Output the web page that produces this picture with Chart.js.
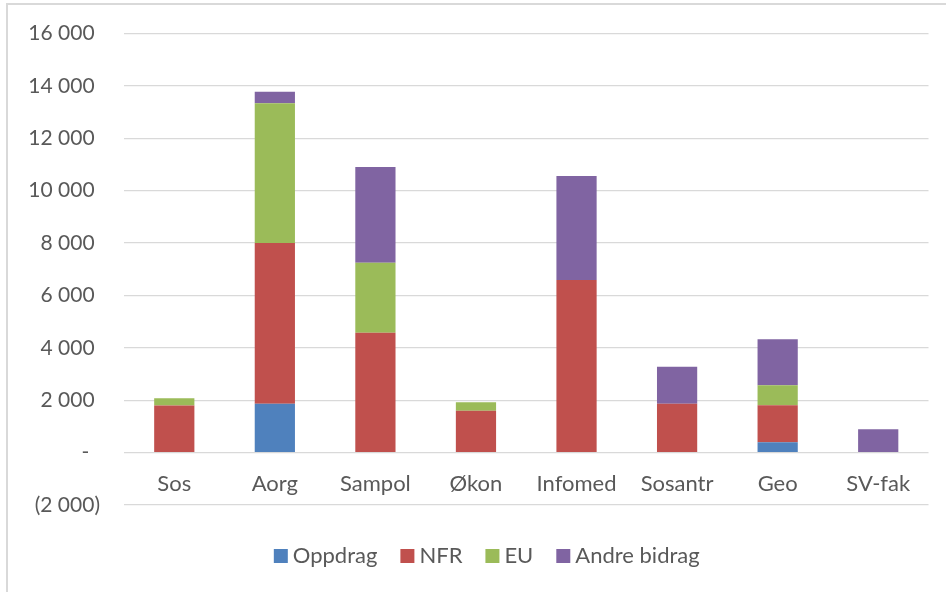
<!DOCTYPE html>
<html>
<head>
<meta charset="utf-8">
<script src="https://cdn.jsdelivr.net/npm/chart.js@4.4.1/dist/chart.umd.min.js"></script>
<style>
  html, body { margin: 0; padding: 0; background: #fff; overflow: hidden; width: 946px; height: 592px; }
  #frame { position: absolute; left: 6px; top: 3px; width: 1200px; height: 1200px; border-left: 2px solid #d9d9d9; border-top: 2px solid #d9d9d9; }
  #wrap { position: absolute; left: 0; top: 0; width: 946px; height: 592px; }
</style>
</head>
<body>
<div id="frame"></div>
<div id="wrap"><canvas id="c" width="946" height="592"></canvas></div>
<script>
const categories = ['Sos', 'Aorg', 'Sampol', 'Økon', 'Infomed', 'Sosantr', 'Geo', 'SV-fak'];
const oppdrag = [0, 1870, 0, 0, 0, 0, 400, 0];
const nfr     = [1800, 6130, 4580, 1600, 6590, 1870, 1410, 0];
const eu      = [280, 5340, 2670, 320, 0, 0, 760, 0];
const andre   = [0, 440, 3650, 0, 3970, 1410, 1760, 890];
const seriesNames = ['Oppdrag', 'NFR', 'EU', 'Andre bidrag'];
const yMin = -2000, yMax = 16000, yStep = 2000;

const FONT = 'Lato, "Open Sans", sans-serif';
const TXT = '#595959';
const GRID = '#d9d9d9';

function fmt(v) {
  if (v === 0) return '-  ';
  const s = Math.abs(v).toString().replace(/\B(?=(\d{3})+(?!\d))/g, ' ');
  return v < 0 ? '(' + s + ')' : s + ' ';
}

// shift the legend so it is centred on the whole chart frame, as in the original
const legendShift = {
  id: 'legendShift',
  afterLayout(chart) {
    const l = chart.legend;
    if (l) { l.left += 25.5; l.right += 25.5; }
  }
};

new Chart(document.getElementById('c'), {
  type: 'bar',
  data: {
    labels: categories,
    datasets: [
      { label: seriesNames[0], data: oppdrag, backgroundColor: '#4f81bd' },
      { label: seriesNames[1], data: nfr, backgroundColor: '#c0504d' },
      { label: seriesNames[2], data: eu, backgroundColor: '#9bbb59' },
      { label: seriesNames[3], data: andre, backgroundColor: '#8064a2' }
    ]
  },
  plugins: [legendShift],
  options: {
    responsive: false,
    animation: false,
    devicePixelRatio: 1,
    datasets: { bar: { categoryPercentage: 1, barPercentage: 0.4, borderWidth: 0 } },
    layout: { padding: { left: 0, right: 17.5, top: 33.5, bottom: 15 } },
    scales: {
      x: {
        stacked: true,
        position: { y: 0 },
        grid: { display: false, drawTicks: false },
        border: { display: false },
        ticks: { font: { family: FONT, size: 22 }, color: TXT, padding: 18, maxRotation: 0, autoSkip: false }
      },
      y: {
        stacked: true,
        min: yMin, max: yMax,
        afterFit: (s) => { s.width = 124; s.paddingTop = 0; s.paddingBottom = 0; },
        grid: { color: GRID, lineWidth: 1.3, drawTicks: false },
        border: { display: false },
        ticks: { stepSize: yStep, font: { family: FONT, size: 21 }, color: TXT, padding: 24, callback: (v) => fmt(v) }
      }
    },
    plugins: {
      tooltip: { enabled: false },
      legend: {
        position: 'bottom',
        title: { display: true, text: ' ', font: { size: 10, lineHeight: 1 }, padding: { top: 0, bottom: 1 } },
        labels: {
          usePointStyle: true, pointStyle: 'rect',
          boxWidth: 2, boxHeight: 14,
          padding: 29,
          font: { family: FONT, size: 22 }, color: TXT
        }
      }
    }
  }
});
</script>
</body>
</html>
